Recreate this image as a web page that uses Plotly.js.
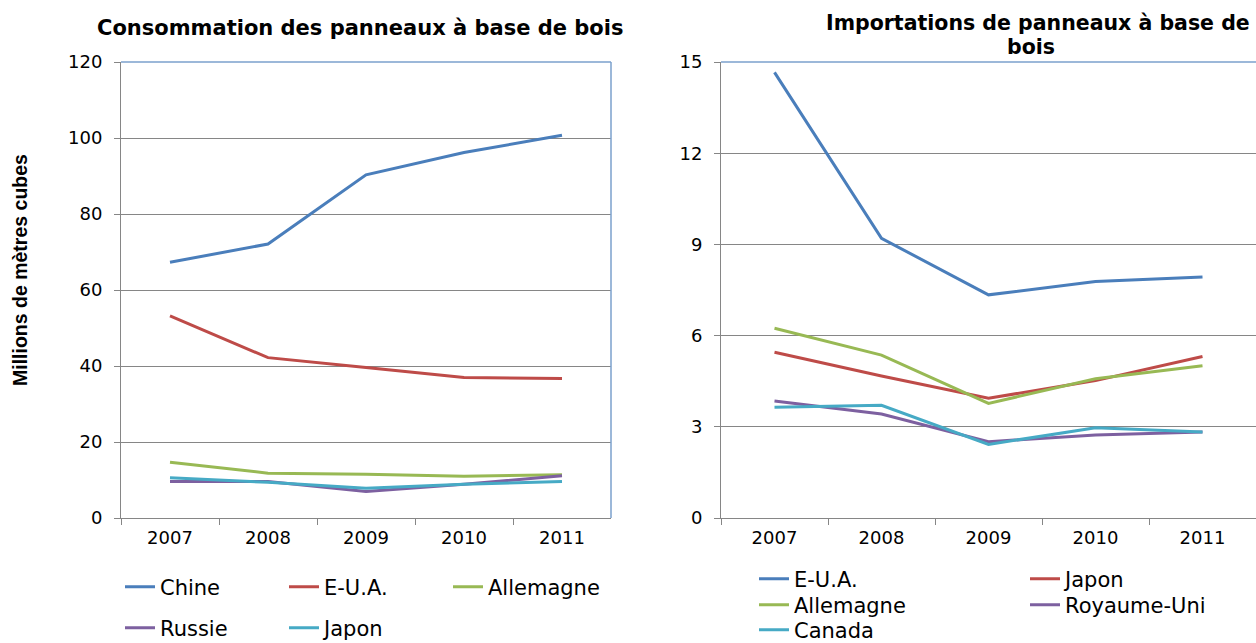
<!DOCTYPE html>
<html>
<head>
<meta charset="utf-8">
<script src="https://cdn.plot.ly/plotly-3.0.1.min.js"></script>
<style>html,body{margin:0;padding:0;background:#fff;overflow:hidden;}#chart{width:1256px;height:643px;}</style>
</head>
<body>
<div id="chart"></div>
<script>
// ---- Data ----
var years = ['2007', '2008', '2009', '2010', '2011'];

// Consommation des panneaux à base de bois (millions de m³)
var consChine     = [67.3, 72.1, 90.3, 96.2, 100.7];
var consEUA       = [53.2, 42.2, 39.6, 37.0, 36.7];
var consAllemagne = [14.7, 11.8, 11.5, 11.0, 11.4];
var consRussie    = [9.6, 9.6, 7.0, 8.9, 11.1];
var consJapon     = [10.6, 9.4, 7.8, 8.9, 9.6];

// Importations de panneaux à base de bois (millions de m³)
var impEUA        = [14.66, 9.2, 7.34, 7.78, 7.93];
var impJapon      = [5.45, 4.67, 3.94, 4.52, 5.31];
var impAllemagne  = [6.24, 5.36, 3.77, 4.58, 5.01];
var impRoyaumeUni = [3.85, 3.42, 2.51, 2.73, 2.83];
var impCanada     = [3.64, 3.71, 2.42, 2.97, 2.83];

var leftTitle = 'Consommation des panneaux à base de bois';
var rightTitleLine1 = 'Importations de panneaux à base de';
var rightTitleLine2 = 'bois';
var yTitle = 'Millions de mètres cubes';

// ---- Styles ----
var C = {blue:'#4A7EBB', red:'#BE4B48', green:'#98B954', purple:'#7D60A0', cyan:'#46AAC5'};
var W = 1256, H = 643;
var px = function(x){ return x / W; };
var py = function(y){ return 1 - y / H; };
var FONT = 'DejaVu Sans, Arial, sans-serif';

function tr(name, y, color, xa, ya, leg){
  return {x: years, y: y, name: name, type:'scatter', mode:'lines',
          line:{color: color, width: 3}, xaxis: xa, yaxis: ya, legend: leg};
}

var data = [
  tr('Chine', consChine, C.blue, 'x', 'y', 'legend'),
  tr('E-U.A.', consEUA, C.red, 'x', 'y', 'legend'),
  tr('Allemagne', consAllemagne, C.green, 'x', 'y', 'legend'),
  tr('Russie', consRussie, C.purple, 'x', 'y', 'legend2'),
  tr('Japon', consJapon, C.cyan, 'x', 'y', 'legend2'),
  tr('E-U.A.', impEUA, C.blue, 'x2', 'y2', 'legend3'),
  tr('Japon', impJapon, C.red, 'x2', 'y2', 'legend3'),
  tr('Allemagne', impAllemagne, C.green, 'x2', 'y2', 'legend4'),
  tr('Royaume-Uni', impRoyaumeUni, C.purple, 'x2', 'y2', 'legend4'),
  tr('Canada', impCanada, C.cyan, 'x2', 'y2', 'legend5')
];

var axisGrey = '#868686';
function xax(dom, anchor){
  return {domain: dom, anchor: anchor, type:'category', tickson:'boundaries',
          range:[-0.5, 4.5], autorange:false,
          ticks:'outside', ticklen:6, tickcolor:axisGrey, showline:true, linecolor:axisGrey,
          linewidth:1, showgrid:false, zeroline:false, fixedrange:true,
          tickfont:{family:FONT, size:18, color:'#000'}, ticklabelstandoff:3};
}
function yax(dom, anchor, range, dtick){
  return {domain: dom, anchor: anchor, range: range, autorange:false, dtick: dtick, tick0:0,
          ticks:'outside', ticklen:6, tickcolor:axisGrey, showline:true, linecolor:axisGrey,
          linewidth:1, showgrid:true, gridcolor:axisGrey, gridwidth:1, zeroline:false,
          fixedrange:true, tickfont:{family:FONT, size:18, color:'#000'}, ticklabelstandoff:8};
}

function leg(x, y, ew){
  return {orientation:'h', x: px(x), y: py(y), xanchor:'left', yanchor:'middle',
          entrywidth: ew, entrywidthmode:'pixels', bgcolor:'rgba(0,0,0,0)', borderwidth:0,
          font:{family:FONT, size:21, color:'#000'}, traceorder:'normal'};
}

var borderBlue = '#7BA0CD';
var layout = {
  width: W, height: H, autosize:false,
  margin:{l:0, r:0, t:0, b:0, pad:0, autoexpand:false},
  paper_bgcolor:'#fff', plot_bgcolor:'#fff',
  showlegend:true,
  xaxis: xax([px(121), px(611)], 'y'),
  yaxis: yax([py(518), py(62)], 'x', [0, 120], 20),
  xaxis2: xax([px(721), 1], 'y2'),
  yaxis2: yax([py(518), py(62)], 'x2', [0, 15], 3),
  legend: leg(120, 587, 119),
  legend2: leg(120, 628, 119),
  legend3: leg(754, 579, 226),
  legend4: leg(754, 605, 226),
  legend5: leg(754, 630, 226),
  annotations: [
    {text: leftTitle, xref:'paper', yref:'paper', x: px(360), y: py(28), showarrow:false,
     xanchor:'center', yanchor:'middle', font:{family:FONT, size:21, color:'#000', weight:'bold'}},
    {text: rightTitleLine1, xref:'paper', yref:'paper', x: px(1038), y: py(23), showarrow:false,
     xanchor:'center', yanchor:'middle', font:{family:FONT, size:20.5, color:'#000', weight:'bold'}},
    {text: rightTitleLine2, xref:'paper', yref:'paper', x: px(1031), y: py(47), showarrow:false,
     xanchor:'center', yanchor:'middle', font:{family:FONT, size:20.5, color:'#000', weight:'bold'}},
    {text: yTitle, xref:'paper', yref:'paper', x: px(20), y: py(270), showarrow:false, textangle:-90,
     xanchor:'center', yanchor:'middle', font:{family:'Liberation Sans, Arial, sans-serif', size:19.5, color:'#000', weight:'bold'}}
  ],
  shapes: [
    {type:'line', xref:'paper', yref:'paper', x0:px(121), x1:px(611), y0:py(62), y1:py(62), line:{color:borderBlue, width:1.5}},
    {type:'line', xref:'paper', yref:'paper', x0:px(611), x1:px(611), y0:py(62), y1:py(518), line:{color:borderBlue, width:1.5}},
    {type:'line', xref:'paper', yref:'paper', x0:px(721), x1:1, y0:py(62), y1:py(62), line:{color:borderBlue, width:1.5}}
  ]
};

Plotly.newPlot('chart', data, layout, {staticPlot:true, displayModeBar:false});
</script>
</body>
</html>
